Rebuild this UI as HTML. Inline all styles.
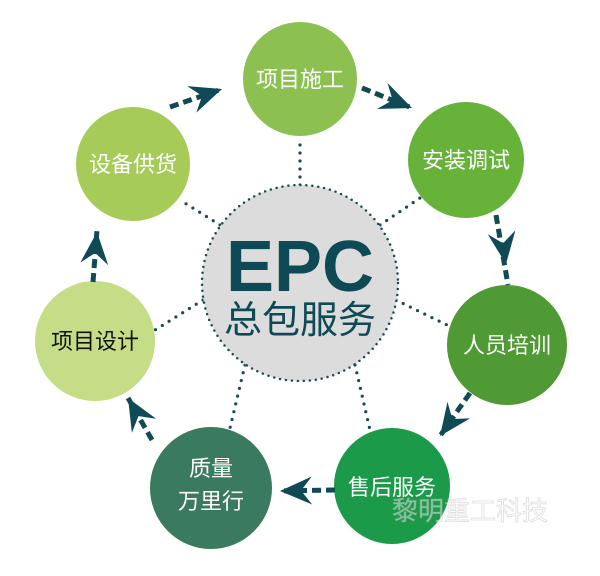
<!DOCTYPE html>
<html><head><meta charset="utf-8"><style>
html,body{margin:0;padding:0;background:#fff;}
svg{display:block}
text{font-family:"Liberation Sans","Noto Sans CJK SC",sans-serif;}
</style></head><body>
<svg width="600" height="576" viewBox="0 0 600 576" xmlns="http://www.w3.org/2000/svg">
<g stroke="#1d4a52" stroke-width="3.2" stroke-linecap="round" stroke-dasharray="0 8" fill="none">
<line x1="300" y1="185" x2="300" y2="140"/>
<line x1="380" y1="225" x2="420" y2="198"/>
<line x1="396" y1="300" x2="447" y2="325"/>
<line x1="355" y1="365" x2="370" y2="430"/>
<line x1="245" y1="365" x2="230" y2="428"/>
<line x1="203" y1="300" x2="155" y2="330"/>
<line x1="220" y1="225" x2="180" y2="200"/>
</g>
<circle cx="300" cy="283" r="98" fill="#dcdcdc" stroke="#1d4a52" stroke-width="2.5" stroke-dasharray="0 6" stroke-linecap="round"/>
<text x="300" y="291" text-anchor="middle" font-size="72" font-weight="bold" fill="#0e4a55">EPC</text>
<text x="300" y="333" text-anchor="middle" font-size="38" fill="#0e4a55">总包服务</text>

<circle cx="300" cy="79" r="57" fill="#8cc152"/>
<circle cx="466" cy="160" r="58" fill="#67b33a"/>
<circle cx="507" cy="345" r="60" fill="#4f9a34"/>
<circle cx="392" cy="486" r="58" fill="#1b9a4a"/>
<circle cx="211" cy="488" r="61" fill="#3a7a5e"/>
<circle cx="95" cy="341" r="60" fill="#c4dd86"/>
<circle cx="133" cy="164" r="57" fill="#a6cb58"/>

<g font-size="22" text-anchor="middle" fill="#fff">
<text x="300" y="87">项目施工</text>
<text x="466" y="168">安装调试</text>
<text x="507" y="353">人员培训</text>
<text x="392" y="495">售后服务</text>
<text x="211" y="476">质量</text>
<text x="211" y="509">万里行</text>
<text x="95" y="349" fill="#111">项目设计</text>
<text x="133" y="172">设备供货</text>
</g>
<text x="470" y="520" text-anchor="middle" font-size="26" fill="#ffffff" fill-opacity="0.45" stroke="#aaa" stroke-opacity="0.4" stroke-width="0.8">黎明重工科技</text>

<g stroke="#0f4a55" stroke-width="5" stroke-dasharray="9 5" fill="none">
<line x1="170" y1="107" x2="222" y2="89"/>
<line x1="362" y1="88" x2="412" y2="108"/>
<line x1="496" y1="215" x2="508" y2="285"/>
<line x1="470" y1="393" x2="440" y2="436"/>
<line x1="335" y1="490" x2="280" y2="491"/>
<line x1="152" y1="440" x2="128" y2="398"/>
<line x1="93" y1="282" x2="97" y2="230"/>
</g>
<g fill="#0f4a55">
<polygon points="0,0 -32,-14 -21,0 -32,14" transform="translate(222,89) rotate(-19)"/>
<polygon points="0,0 -32,-14 -21,0 -32,14" transform="translate(412,108) rotate(22)"/>
<polygon points="0,0 -32,-14 -21,0 -32,14" transform="translate(506,264) rotate(82)"/>
<polygon points="0,0 -32,-14 -21,0 -32,14" transform="translate(440,436) rotate(126)"/>
<polygon points="0,0 -32,-14 -21,0 -32,14" transform="translate(280,491) rotate(179)"/>
<polygon points="0,0 -32,-14 -21,0 -32,14" transform="translate(128,398) rotate(240)"/>
<polygon points="0,0 -32,-14 -21,0 -32,14" transform="translate(97,232) rotate(-85)"/>
</g>
</svg>
</body></html>
